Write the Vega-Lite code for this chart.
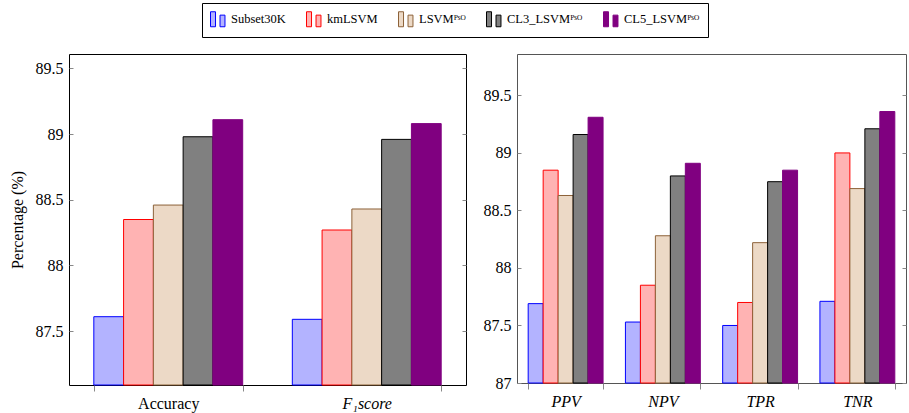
{
  "$schema": "https://vega.github.io/schema/vega-lite/v6.json",
  "padding": {"left": 8, "top": 2, "right": 3, "bottom": 3},
  "bounds": "flush",
  "spacing": 51,
  "datasets": {
    "left": [
      {"metric": "Accuracy", "method": "Subset30K", "value": 87.61},
      {"metric": "Accuracy", "method": "kmLSVM", "value": 88.35},
      {"metric": "Accuracy", "method": "LSVMᴾˢᴼ", "value": 88.46},
      {"metric": "Accuracy", "method": "CL3_LSVMᴾˢᴼ", "value": 88.98},
      {"metric": "Accuracy", "method": "CL5_LSVMᴾˢᴼ", "value": 89.11},
      {"metric": "F₁score", "method": "Subset30K", "value": 87.59},
      {"metric": "F₁score", "method": "kmLSVM", "value": 88.27},
      {"metric": "F₁score", "method": "LSVMᴾˢᴼ", "value": 88.43},
      {"metric": "F₁score", "method": "CL3_LSVMᴾˢᴼ", "value": 88.96},
      {"metric": "F₁score", "method": "CL5_LSVMᴾˢᴼ", "value": 89.08}
    ],
    "right": [
      {"metric": "PPV", "method": "Subset30K", "value": 87.69},
      {"metric": "PPV", "method": "kmLSVM", "value": 88.85},
      {"metric": "PPV", "method": "LSVMᴾˢᴼ", "value": 88.63},
      {"metric": "PPV", "method": "CL3_LSVMᴾˢᴼ", "value": 89.16},
      {"metric": "PPV", "method": "CL5_LSVMᴾˢᴼ", "value": 89.31},
      {"metric": "NPV", "method": "Subset30K", "value": 87.53},
      {"metric": "NPV", "method": "kmLSVM", "value": 87.85},
      {"metric": "NPV", "method": "LSVMᴾˢᴼ", "value": 88.28},
      {"metric": "NPV", "method": "CL3_LSVMᴾˢᴼ", "value": 88.80},
      {"metric": "NPV", "method": "CL5_LSVMᴾˢᴼ", "value": 88.91},
      {"metric": "TPR", "method": "Subset30K", "value": 87.50},
      {"metric": "TPR", "method": "kmLSVM", "value": 87.70},
      {"metric": "TPR", "method": "LSVMᴾˢᴼ", "value": 88.22},
      {"metric": "TPR", "method": "CL3_LSVMᴾˢᴼ", "value": 88.75},
      {"metric": "TPR", "method": "CL5_LSVMᴾˢᴼ", "value": 88.85},
      {"metric": "TNR", "method": "Subset30K", "value": 87.71},
      {"metric": "TNR", "method": "kmLSVM", "value": 89.00},
      {"metric": "TNR", "method": "LSVMᴾˢᴼ", "value": 88.69},
      {"metric": "TNR", "method": "CL3_LSVMᴾˢᴼ", "value": 89.21},
      {"metric": "TNR", "method": "CL5_LSVMᴾˢᴼ", "value": 89.36}
    ]
  },
  "hconcat": [
    {
      "width": 397,
      "height": 331,
      "data": {"name": "left"},
      "view": {"stroke": "black", "strokeWidth": 1},
      "layer": [
        {
          "mark": {"type": "bar", "strokeWidth": 1},
          "encoding": {
            "x": {
              "field": "metric", "type": "nominal", "sort": ["Accuracy", "F₁score"],
              "scale": {"paddingInner": 0.25, "paddingOuter": 0.125},
              "axis": {"title": null, "labelAngle": 0, "tickBand": "extent", "tickSize": 6, "labelPadding": 4,
                "labelFontStyle": {"condition": {"test": "datum.value == 'Accuracy'", "value": "normal"}, "value": "italic"}}
            },
            "xOffset": {
              "field": "method", "type": "nominal",
              "sort": ["Subset30K", "kmLSVM", "LSVMᴾˢᴼ", "CL3_LSVMᴾˢᴼ", "CL5_LSVMᴾˢᴼ"],
              "scale": {"paddingInner": 0, "paddingOuter": 0}
            },
            "y": {
              "field": "value", "type": "quantitative",
              "scale": {"domain": [87.09, 89.61], "zero": false, "nice": false},
              "axis": {"title": "Percentage (%)", "values": [87.5, 88, 88.5, 89, 89.5], "format": "~g", "tickSize": -4, "labelPadding": 10, "titlePadding": 10}
            },
            "y2": {"datum": 87.09},
            "fill": {
              "field": "method", "type": "nominal",
              "sort": ["Subset30K", "kmLSVM", "LSVMᴾˢᴼ", "CL3_LSVMᴾˢᴼ", "CL5_LSVMᴾˢᴼ"],
              "scale": {"domain": ["Subset30K", "kmLSVM", "LSVMᴾˢᴼ", "CL3_LSVMᴾˢᴼ", "CL5_LSVMᴾˢᴼ"], "range": ["#b3b3ff", "#ffb3b3", "#ecd9c6", "#808080", "#800080"]},
              "legend": {"title": null}
            },
            "stroke": {
              "field": "method", "type": "nominal",
              "sort": ["Subset30K", "kmLSVM", "LSVMᴾˢᴼ", "CL3_LSVMᴾˢᴼ", "CL5_LSVMᴾˢᴼ"],
              "scale": {"domain": ["Subset30K", "kmLSVM", "LSVMᴾˢᴼ", "CL3_LSVMᴾˢᴼ", "CL5_LSVMᴾˢᴼ"], "range": ["#0000ff", "#ff0000", "#8c6239", "#000000", "#800080"]},
              "legend": {"title": null}
            }
          }
        },
        {
          "mark": {"type": "point", "opacity": 0},
          "encoding": {
            "x": {"field": "metric", "type": "nominal", "sort": ["Accuracy", "F₁score"], "scale": {"paddingInner": 0.25, "paddingOuter": 0.125}},
            "y": {
              "field": "value", "type": "quantitative",
              "scale": {"domain": [87.09, 89.61], "zero": false, "nice": false},
              "axis": {"orient": "right", "title": null, "labels": false, "values": [87.5, 88, 88.5, 89, 89.5], "tickSize": -4}
            }
          }
        }
      ],
      "resolve": {"axis": {"y": "independent"}}
    },
    {
      "width": 389,
      "height": 329,
      "data": {"name": "right"},
      "view": {"stroke": "#555555", "strokeWidth": 1},
      "layer": [
        {
          "mark": {"type": "bar", "strokeWidth": 1},
          "encoding": {
            "x": {
              "field": "metric", "type": "nominal", "sort": ["PPV", "NPV", "TPR", "TNR"],
              "scale": {"paddingInner": 0.23, "paddingOuter": 0.115},
              "axis": {"title": null, "labelAngle": 0, "tickBand": "extent", "tickSize": 6, "labelPadding": 4, "labelFontStyle": "italic"}
            },
            "xOffset": {
              "field": "method", "type": "nominal",
              "sort": ["Subset30K", "kmLSVM", "LSVMᴾˢᴼ", "CL3_LSVMᴾˢᴼ", "CL5_LSVMᴾˢᴼ"],
              "scale": {"paddingInner": 0, "paddingOuter": 0}
            },
            "y": {
              "field": "value", "type": "quantitative",
              "scale": {"domain": [87, 89.86], "zero": false, "nice": false},
              "axis": {"title": null, "values": [87, 87.5, 88, 88.5, 89, 89.5], "format": "~g", "tickSize": -4, "labelPadding": 10}
            },
            "y2": {"datum": 87},
            "fill": {
              "field": "method", "type": "nominal",
              "sort": ["Subset30K", "kmLSVM", "LSVMᴾˢᴼ", "CL3_LSVMᴾˢᴼ", "CL5_LSVMᴾˢᴼ"],
              "scale": {"domain": ["Subset30K", "kmLSVM", "LSVMᴾˢᴼ", "CL3_LSVMᴾˢᴼ", "CL5_LSVMᴾˢᴼ"], "range": ["#b3b3ff", "#ffb3b3", "#ecd9c6", "#808080", "#800080"]},
              "legend": {"title": null}
            },
            "stroke": {
              "field": "method", "type": "nominal",
              "sort": ["Subset30K", "kmLSVM", "LSVMᴾˢᴼ", "CL3_LSVMᴾˢᴼ", "CL5_LSVMᴾˢᴼ"],
              "scale": {"domain": ["Subset30K", "kmLSVM", "LSVMᴾˢᴼ", "CL3_LSVMᴾˢᴼ", "CL5_LSVMᴾˢᴼ"], "range": ["#0000ff", "#ff0000", "#8c6239", "#000000", "#800080"]},
              "legend": {"title": null}
            }
          }
        },
        {
          "mark": {"type": "point", "opacity": 0},
          "encoding": {
            "x": {"field": "metric", "type": "nominal", "sort": ["PPV", "NPV", "TPR", "TNR"], "scale": {"paddingInner": 0.23, "paddingOuter": 0.115}},
            "y": {
              "field": "value", "type": "quantitative",
              "scale": {"domain": [87, 89.86], "zero": false, "nice": false},
              "axis": {"orient": "right", "title": null, "labels": false, "values": [87, 87.5, 88, 88.5, 89, 89.5], "tickSize": -4}
            }
          }
        }
      ],
      "resolve": {"axis": {"y": "independent"}}
    }
  ],
  "resolve": {"scale": {"x": "independent", "y": "independent", "xOffset": "independent", "fill": "shared", "stroke": "shared"}, "legend": {"fill": "shared", "stroke": "shared"}},
  "config": {
    "font": "Liberation Serif",
    "axis": {
      "labelFont": "Liberation Serif", "labelFontSize": 16, "labelColor": "black",
      "tickColor": "#888888", "tickWidth": 1, "domain": false, "grid": false,
      "titleFont": "Liberation Serif", "titleFontSize": 16, "titleFontWeight": "normal", "titleColor": "black"
    },
    "legend": {
      "orient": "none", "legendX": 133, "legendY": -51, "direction": "horizontal",
      "labelFont": "Liberation Serif", "labelFontSize": 12.5, "labelColor": "black",
      "symbolType": "M-1,-1H-0.33V1H-1Z M0.27,-0.55H0.93V1H0.27Z",
      "symbolSize": 225, "symbolStrokeWidth": 1, "symbolOpacity": 1,
      "columnPadding": 18, "labelOffset": 5,
      "strokeColor": "black", "padding": 8, "fillColor": "white"
    }
  }
}
